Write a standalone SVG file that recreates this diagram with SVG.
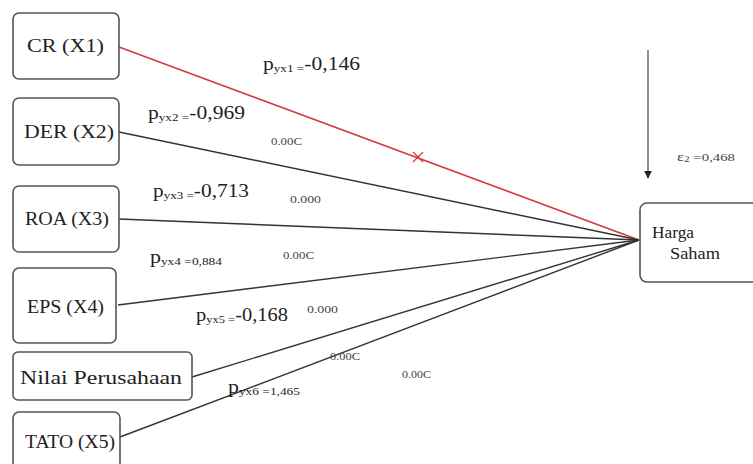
<svg xmlns="http://www.w3.org/2000/svg" width="753" height="464" viewBox="0 0 753 464" font-family="'Liberation Serif', 'DejaVu Serif', serif">
<style>
text{font-family:'Liberation Serif','DejaVu Serif',serif}
.box{fill:#fff;stroke:#555;stroke-width:1.6}
.lbl{font-size:19px;fill:#222}
.hs{font-size:17px;fill:#222}
.coef{font-size:18px;fill:#222}
.sub{font-size:11px}
.sig{font-size:10.5px;fill:#444}
.edge{stroke:#333;stroke-width:1.4;fill:none}
.red{stroke:#d9363e;stroke-width:1.5;fill:none}
</style>
<defs>
<marker id="ah" viewBox="0 0 10 10" refX="9" refY="5" markerWidth="8" markerHeight="8" orient="auto" markerUnits="userSpaceOnUse">
<path d="M0,0 L10,5 L0,10 z" fill="#222"/>
</marker>
</defs>
<rect width="753" height="464" fill="#fff"/>
<g id="connectors">
<line class="red" x1="119" y1="47" x2="639" y2="240"/>
<line class="edge" x1="119" y1="132" x2="639" y2="240"/>
<line class="edge" x1="119" y1="219" x2="639" y2="240"/>
<line class="edge" x1="118" y1="305" x2="639" y2="240"/>
<line class="edge" x1="192" y1="377" x2="639" y2="240"/>
<line class="edge" x1="120" y1="437" x2="639" y2="240"/>
<line x1="648" y1="50" x2="648" y2="178" stroke="#444" stroke-width="1.2" marker-end="url(#ah)"/>
<path d="M413,152 L423,162 M423,152 L413,162" stroke="#d9363e" stroke-width="1.2"/>
</g>
<g id="node-cr"><rect class="box" x="13" y="13" width="106" height="66" rx="6"/><text class="lbl" x="27" y="52" textLength="77" lengthAdjust="spacingAndGlyphs">CR (X1)</text></g>
<g id="node-der"><rect class="box" x="13" y="98" width="106" height="67" rx="6"/><text class="lbl" x="24" y="138" textLength="90" lengthAdjust="spacingAndGlyphs">DER (X2)</text></g>
<g id="node-roa"><rect class="box" x="13" y="186" width="106" height="66" rx="6"/><text class="lbl" x="25" y="225" textLength="84" lengthAdjust="spacingAndGlyphs">ROA (X3)</text></g>
<g id="node-eps"><rect class="box" x="13" y="268" width="103" height="75" rx="6"/><text class="lbl" x="27" y="313" textLength="77" lengthAdjust="spacingAndGlyphs">EPS (X4)</text></g>
<g id="node-nilai"><rect class="box" x="13" y="352" width="179" height="48" rx="5"/><text class="lbl" x="20" y="384" textLength="162" lengthAdjust="spacingAndGlyphs">Nilai Perusahaan</text></g>
<g id="node-tato"><rect class="box" x="13" y="412" width="107" height="70" rx="6"/><text class="lbl" x="25" y="448" textLength="90" lengthAdjust="spacingAndGlyphs">TATO (X5)</text></g>
<g id="node-harga"><rect class="box" x="640" y="203" width="130" height="79" rx="7"/><text class="hs" x="652" y="238" textLength="42" lengthAdjust="spacingAndGlyphs">Harga</text><text class="hs" x="670" y="259" textLength="50" lengthAdjust="spacingAndGlyphs">Saham</text></g>
<g id="labels">
<text class="coef" x="263" y="70" textLength="97" lengthAdjust="spacingAndGlyphs">p<tspan class="sub" dy="2">yx1 =</tspan><tspan dy="-2">-0,146</tspan></text>
<text class="coef" x="148" y="119" textLength="97" lengthAdjust="spacingAndGlyphs">p<tspan class="sub" dy="2">yx2 =</tspan><tspan dy="-2">-0,969</tspan></text>
<text class="coef" x="153" y="197" textLength="96" lengthAdjust="spacingAndGlyphs">p<tspan class="sub" dy="2">yx3 =</tspan><tspan dy="-2">-0,713</tspan></text>
<text class="coef" x="150" y="263" textLength="72" lengthAdjust="spacingAndGlyphs">p<tspan class="sub" dy="2">yx4 =0,884</tspan></text>
<text class="coef" x="196" y="321" textLength="92" lengthAdjust="spacingAndGlyphs">p<tspan class="sub" dy="2">yx5 =</tspan><tspan dy="-2">-0,168</tspan></text>
<text class="coef" x="228" y="393" textLength="72" lengthAdjust="spacingAndGlyphs">p<tspan class="sub" dy="2">yx6 =1,465</tspan></text>
<text class="sig" x="271" y="145" textLength="31" lengthAdjust="spacingAndGlyphs">0.00C</text>
<text class="sig" x="290" y="203" textLength="31" lengthAdjust="spacingAndGlyphs">0.000</text>
<text class="sig" x="283" y="259" textLength="31" lengthAdjust="spacingAndGlyphs">0.00C</text>
<text class="sig" x="307" y="313" textLength="31" lengthAdjust="spacingAndGlyphs">0.000</text>
<text class="sig" x="330" y="360" textLength="30" lengthAdjust="spacingAndGlyphs">0.00C</text>
<text class="sig" x="402" y="378" textLength="29" lengthAdjust="spacingAndGlyphs">0.00C</text>
<text class="sig" x="677" y="161" textLength="58" lengthAdjust="spacingAndGlyphs"><tspan font-size="12">ε</tspan><tspan font-size="8" dy="1">2</tspan><tspan dy="-1"> =0,468</tspan></text>
</g>
</svg>
